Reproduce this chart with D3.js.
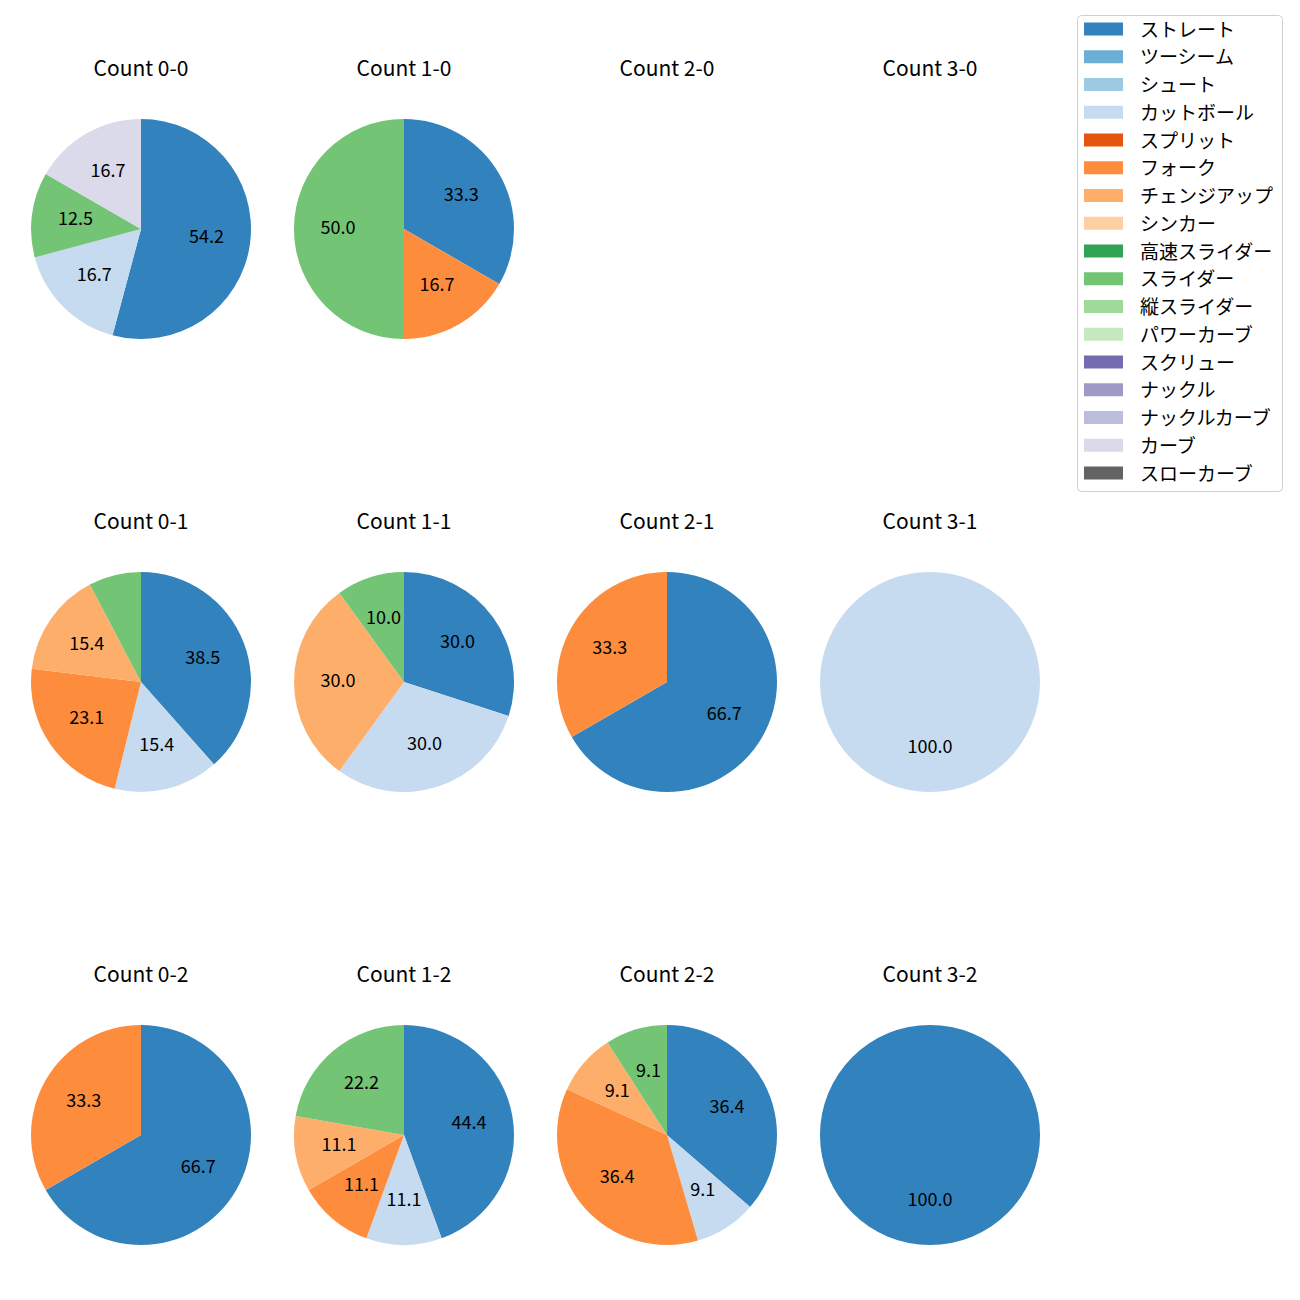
<!DOCTYPE html>
<html><head><meta charset="utf-8">
<script src="https://cdn.jsdelivr.net/npm/d3@7"></script>
<style>body{margin:0;background:#fff}</style>
</head><body>
<svg id="c" width="1300" height="1300"></svg>
<script>
const pitchTypes = ["ストレート","ツーシーム","シュート","カットボール","スプリット","フォーク","チェンジアップ","シンカー","高速スライダー","スライダー","縦スライダー","パワーカーブ","スクリュー","ナックル","ナックルカーブ","カーブ","スローカーブ"];
const pitchColors = ["#3182bd","#6baed6","#9ecae1","#c6dbef","#e6550d","#fd8d3c","#fdae6b","#fdd0a2","#31a354","#74c476","#a1d99b","#c7e9c0","#756bb1","#9e9ac8","#bcbddc","#dadaeb","#636363"];
const countTitles = ["Count 0-0","Count 1-0","Count 2-0","Count 3-0","Count 0-1","Count 1-1","Count 2-1","Count 3-1","Count 0-2","Count 1-2","Count 2-2","Count 3-2"];
// pitch counts per count situation
const count00 = {"ストレート":13,"カットボール":4,"スライダー":3,"カーブ":4};
const count10 = {"ストレート":2,"フォーク":1,"スライダー":3};
const count20 = {};
const count30 = {};
const count01 = {"ストレート":5,"カットボール":2,"フォーク":3,"チェンジアップ":2,"スライダー":1};
const count11 = {"ストレート":3,"カットボール":3,"チェンジアップ":3,"スライダー":1};
const count21 = {"ストレート":2,"フォーク":1};
const count31 = {"カットボール":1};
const count02 = {"ストレート":2,"フォーク":1};
const count12 = {"ストレート":4,"カットボール":1,"フォーク":1,"チェンジアップ":1,"スライダー":2};
const count22 = {"ストレート":4,"カットボール":1,"フォーク":4,"チェンジアップ":1,"スライダー":1};
const count32 = {"ストレート":1};
const allCounts = [count00,count10,count20,count30,count01,count11,count21,count31,count02,count12,count22,count32];

const svg = d3.select("#c");
const font = "'Noto Sans CJK JP','Noto Sans',sans-serif";
const color = d3.scaleOrdinal().domain(pitchTypes).range(pitchColors);
const colX = d3.scalePoint().domain([0,1,2,3]).range([141,930]);
const rowY = d3.scalePoint().domain([0,1,2]).range([229,1135]);
const R = 110;
const pie = d3.pie().sort(null).value(d=>d.v);
const arc = d3.arc().innerRadius(0).outerRadius(R);
const labelArc = d3.arc().innerRadius(R*0.6).outerRadius(R*0.6);

allCounts.forEach((cnt,i)=>{
  const col = i%4, row = Math.floor(i/4);
  const cx = colX(col), cy = rowY(row);
  const g = svg.append("g").attr("transform",`translate(${cx},${cy})`);
  g.append("text").attr("x",0).attr("y",-R-43).attr("text-anchor","middle")
    .attr("font-family",font).attr("font-size",21).attr("fill","#000")
    .text(countTitles[i]);
  const data = pitchTypes.filter(p=>cnt[p]).map(p=>({k:p,v:cnt[p]}));
  if(!data.length) return;
  const total = d3.sum(data,d=>d.v);
  const arcs = pie(data);
  g.selectAll("path").data(arcs).join("path").attr("d",arc).attr("fill",d=>color(d.data.k));
  g.selectAll("text.l").data(arcs.filter(d=>d.data.v/total*100>=8)).join("text").attr("class","l")
    .attr("transform",d=>{const c=labelArc.centroid(d);return `translate(${c[0]},${c[1]-3})`;})
    .attr("text-anchor","middle").attr("dominant-baseline","central")
    .attr("font-family",font).attr("font-size",18).attr("fill","#000")
    .text(d=>(d.data.v/total*100).toFixed(1));
});

// legend
const lg = svg.append("g");
lg.append("rect").attr("x",1077.5).attr("y",15.5).attr("width",205).attr("height",476).attr("rx",4)
  .attr("fill","#fff").attr("stroke","#d0d0d0").attr("stroke-width",1);
const ly = d3.scaleLinear().domain([0,pitchTypes.length-1]).range([29,473]);
pitchTypes.forEach((p,i)=>{
  lg.append("rect").attr("x",1084).attr("y",ly(i)-6.5).attr("width",39).attr("height",13).attr("fill",color(p));
  lg.append("text").attr("x",1140).attr("y",ly(i)-1).attr("dominant-baseline","central")
    .attr("font-family",font).attr("font-size",19).attr("fill","#000").text(p);
});
</script>
</body></html>
